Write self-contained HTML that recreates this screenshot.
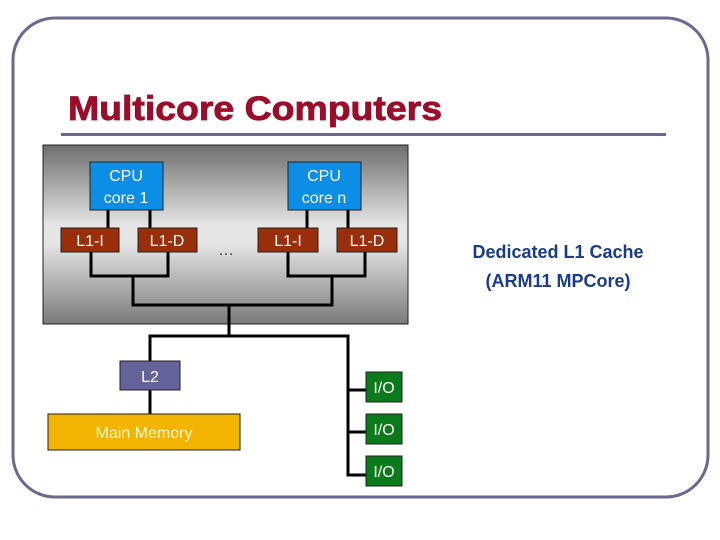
<!DOCTYPE html>
<html><head><meta charset="utf-8"><style>
html,body{margin:0;padding:0;background:#fff}
svg{display:block}
text{font-family:"Liberation Sans",Arial,sans-serif}
</style></head><body>
<svg width="720" height="540" viewBox="0 0 720 540" xmlns="http://www.w3.org/2000/svg">
<defs>
<linearGradient id="g" x1="0" y1="0" x2="0" y2="1">
<stop offset="0" stop-color="#6e6e6e"/>
<stop offset="0.45" stop-color="#e6e6e6"/>
<stop offset="0.55" stop-color="#e6e6e6"/>
<stop offset="1" stop-color="#7a7a7a"/>
</linearGradient>
</defs>
<rect x="13" y="18" width="695" height="479" rx="42" ry="42" fill="none" stroke="#686a8e" stroke-width="3"/>
<text x="68" y="120" font-size="34" font-weight="bold" fill="#9b0d2a" stroke="#9b0d2a" stroke-width="0.8" textLength="374" lengthAdjust="spacingAndGlyphs">Multicore Computers</text>
<rect x="61" y="133" width="605" height="3" fill="#686a8e"/>
<rect x="43" y="145" width="365" height="179" fill="url(#g)" stroke="#222" stroke-width="1"/>
<g stroke="#000" stroke-width="3" fill="none">
<path d="M108 210V228M150 210V228M307 210V228M348 210V228"/>
<path d="M91 252V276H168V252M288 252V276H365V252"/>
<path d="M133 276V305H332V276M229 305V336"/>
<path d="M150 361V336H348V475H366M348 390H366M348 432H366"/>
<path d="M150 390V414"/>
</g>
<g stroke="#222" stroke-width="1">
<rect x="90" y="162" width="73" height="48" fill="#0c8de6"/>
<rect x="288" y="162" width="73" height="48" fill="#0c8de6"/>
<rect x="61" y="228" width="58" height="24" fill="#992e0a"/>
<rect x="138" y="228" width="59" height="24" fill="#992e0a"/>
<rect x="258" y="228" width="60" height="24" fill="#992e0a"/>
<rect x="337" y="228" width="60" height="24" fill="#992e0a"/>
<rect x="120" y="361" width="60" height="29" fill="#636399"/>
<rect x="48" y="414" width="192" height="36" fill="#f2b400"/>
<rect x="366" y="372" width="36" height="30" fill="#0a7a1a"/>
<rect x="366" y="414" width="36" height="30" fill="#0a7a1a"/>
<rect x="366" y="456" width="36" height="30" fill="#0a7a1a"/>
</g>
<g fill="#fff" font-size="16" text-anchor="middle">
<text x="126" y="181">CPU</text><text x="126" y="203">core 1</text>
<text x="324" y="181">CPU</text><text x="324" y="203">core n</text>
<text x="90" y="246">L1-I</text><text x="167" y="246">L1-D</text>
<text x="288" y="246">L1-I</text><text x="367" y="246">L1-D</text>
<text x="150" y="382">L2</text>
<text x="144" y="438" fill="#fff8d0">Main Memory</text>
<text x="384" y="393">I/O</text><text x="384" y="435">I/O</text><text x="384" y="477">I/O</text>
</g>
<text x="226" y="255" font-size="16" text-anchor="middle" fill="#333">…</text>
<g fill="#1a3a8c" font-size="18" font-weight="bold" text-anchor="middle">
<text x="558" y="258">Dedicated L1 Cache</text>
<text x="558" y="287">(ARM11 MPCore)</text>
</g>
</svg>
</body></html>
